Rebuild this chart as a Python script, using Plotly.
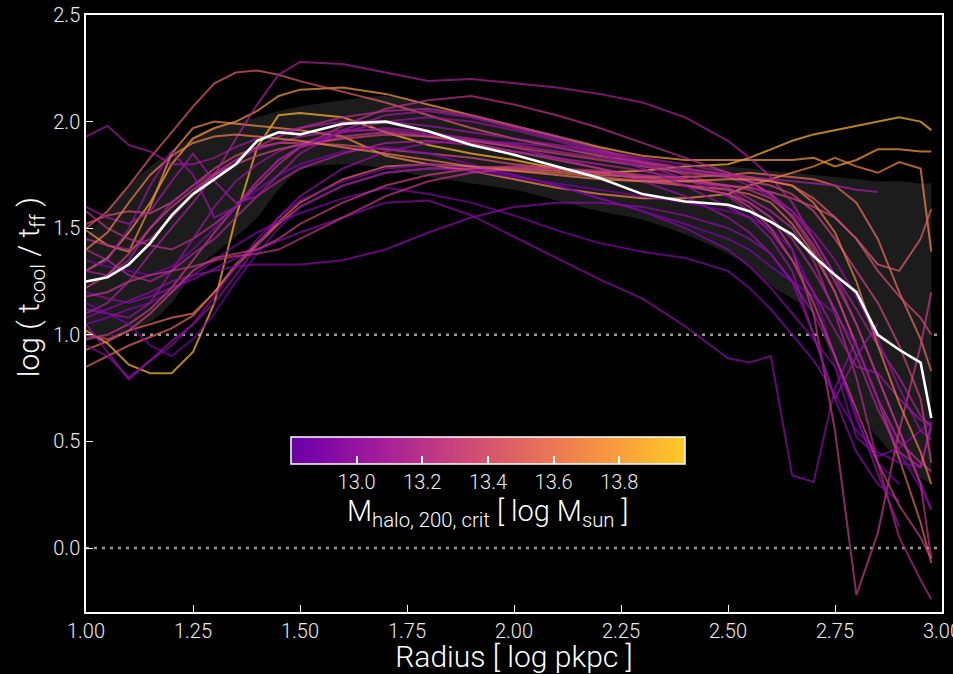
import numpy as np
import plotly.graph_objects as go
from plotly.colors import sample_colorscale

radius = [1.00, 1.05, 1.10, 1.15, 1.20, 1.25, 1.30, 1.35, 1.40, 1.45, 1.50, 1.60, 1.70, 1.80, 1.90,
          2.00, 2.10, 2.20, 2.30, 2.40, 2.50, 2.55, 2.60, 2.65, 2.70, 2.75, 2.80, 2.85, 2.90, 2.95, 2.975]

median = [1.25, 1.27, 1.33, 1.43, 1.56, 1.66, 1.73, 1.80, 1.91, 1.95, 1.94, 1.99, 2.00, 1.955, 1.89,
          1.845, 1.79, 1.735, 1.66, 1.625, 1.61, 1.58, 1.53, 1.47, 1.37, 1.28, 1.20, 1.00, 0.93, 0.87, 0.61]
band_lo = [0.97, 0.99, 1.02, 1.06, 1.15, 1.29, 1.38, 1.46, 1.55, 1.68, 1.77, 1.80, 1.78, 1.74, 1.71,
           1.68, 1.63, 1.58, 1.54, 1.47, 1.38, 1.32, 1.23, 1.17, 1.10, 0.84, 0.65, 0.52, 0.41, 0.33, 0.30]
band_hi = [1.46, 1.58, 1.70, 1.79, 1.86, 1.93, 1.97, 2.00, 2.02, 2.05, 2.07, 2.10, 2.12, 2.08, 2.03,
           1.98, 1.94, 1.89, 1.83, 1.80, 1.79, 1.78, 1.77, 1.76, 1.75, 1.74, 1.73, 1.72, 1.72, 1.71, 1.71]

halo_mass = [13.92, 13.78, 13.70, 13.55, 13.45, 13.35, 13.50, 13.05, 13.10, 12.95,
             12.90, 13.15, 13.20, 13.00, 13.25, 12.92, 13.08, 12.88, 12.85, 13.12,
             12.98, 13.30, 13.22, 13.05, 13.62, 12.95, 13.28, 13.00]

N = None
profiles = [
    [1.02, 0.96, 0.86, 0.82, 0.82, 0.92, 1.15, 1.55, 1.88, 2.03, 2.04, 2.02, 1.95, 1.89, 1.85, 1.82, 1.78, 1.76, 1.77, 1.79, 1.80, 1.83, 1.87, 1.91, 1.94, 1.96, 1.98, 2.00, 2.02, 2.00, 1.96],
    [1.30, 1.36, 1.48, 1.62, 1.80, 1.92, 1.97, 2.00, 2.05, 2.12, 2.15, 2.16, 2.13, 2.08, 2.03, 1.98, 1.93, 1.88, 1.84, 1.82, 1.82, 1.82, 1.82, 1.82, 1.83, 1.79, 1.82, 1.87, 1.87, 1.86, 1.86],
    [1.49, 1.42, 1.39, 1.60, 1.85, 1.97, 2.00, 1.99, 1.98, 1.97, 1.96, 1.93, 1.84, 1.80, 1.77, 1.73, 1.69, 1.66, 1.64, 1.64, 1.66, 1.70, 1.73, 1.76, 1.79, 1.83, 1.79, 1.76, 1.81, 1.78, 1.39],
    [0.93, 0.97, 1.02, 1.05, 1.08, 1.10, 1.20, 1.33, 1.43, 1.53, 1.62, 1.73, 1.79, 1.80, 1.79, 1.78, 1.77, 1.75, 1.74, 1.74, 1.75, 1.76, 1.75, 1.74, 1.73, 1.70, 1.62, 1.45, 1.20, 0.98, 0.83],
    [1.50, 1.58, 1.70, 1.83, 1.95, 2.07, 2.18, 2.23, 2.24, 2.22, 2.19, 2.14, 2.09, 2.03, 1.97, 1.92, 1.88, 1.84, 1.81, 1.78, 1.75, 1.74, 1.72, 1.70, 1.64, 1.55, 1.45, 1.33, 1.30, 1.45, 1.59],
    [1.52, 1.56, 1.58, 1.57, 1.62, 1.70, 1.78, 1.84, 1.88, 1.90, 1.90, 1.89, 1.87, 1.85, 1.83, 1.80, 1.78, 1.76, 1.74, 1.72, 1.70, 1.69, 1.67, 1.64, 1.60, 1.55, 1.45, 1.30, 1.18, 1.08, 1.00],
    [0.85, 0.90, 0.95, 0.99, 1.03, 1.09, 1.20, 1.32, 1.42, 1.52, 1.60, 1.70, 1.76, 1.78, 1.78, 1.77, 1.76, 1.74, 1.72, 1.70, 1.68, 1.66, 1.62, 1.52, 1.38, 1.20, 0.95, 0.70, 0.42, 0.12, -0.07],
    [1.93, 1.98, 1.89, 1.86, 1.80, 1.80, 1.83, 1.88, 1.92, 1.95, 1.97, 2.00, 2.00, 1.98, 1.95, 1.92, 1.89, 1.86, 1.83, 1.80, 1.76, 1.72, 1.66, 1.58, 1.45, 1.28, 1.05, 0.80, 0.55, 0.30, 0.18],
    [1.10, 1.15, 1.25, 1.38, 1.50, 1.62, 1.75, 1.92, 2.08, 2.22, 2.28, 2.27, 2.23, 2.19, 2.20, 2.18, 2.16, 2.13, 2.09, 2.02, 1.91, 1.83, 1.74, 1.62, 1.45, 1.28, 1.12, 0.95, 0.80, 0.62, 0.57],
    [1.20, 1.17, 1.15, 1.18, 1.22, 1.26, 1.31, 1.36, 1.40, 1.44, 1.48, 1.55, 1.62, 1.63, 1.56, 1.46, 1.36, 1.26, 1.17, 1.04, 0.89, 0.87, 0.90, 0.34, 0.31, 0.75, 0.98, N, N, N, N],
    [1.05, 1.08, 1.12, 1.15, 1.20, 1.28, 1.35, 1.42, 1.48, 1.53, 1.57, 1.64, 1.69, 1.66, 1.62, 1.56, 1.49, 1.43, 1.39, 1.36, 1.30, 1.22, 1.12, 1.00, 0.88, 0.72, 0.55, 0.45, 0.40, 0.38, 0.59],
    [1.45, 1.42, 1.40, 1.45, 1.55, 1.66, 1.75, 1.82, 1.88, 1.93, 1.97, 2.02, 2.05, 2.06, 2.03, 1.98, 1.93, 1.87, 1.81, 1.75, 1.69, 1.64, 1.58, 1.50, 1.35, 1.10, 0.80, 0.40, 0.05, -0.15, -0.24],
    [1.58, 1.50, 1.45, 1.42, 1.40, 1.45, 1.52, 1.60, 1.70, 1.80, 1.88, 1.98, 2.06, 2.10, 2.12, 2.08, 2.03, 1.97, 1.90, 1.83, 1.76, 1.72, 1.66, 1.55, 1.40, 1.20, 0.95, 0.70, 0.50, 0.40, 0.36],
    [1.12, 1.10, 1.08, 1.15, 1.30, 1.45, 1.60, 1.72, 1.80, 1.86, 1.90, 1.95, 1.97, 1.95, 1.92, 1.88, 1.83, 1.78, 1.72, 1.65, 1.55, 1.48, 1.38, 1.25, 1.10, 0.90, 0.62, 0.35, 0.10, N, N],
    [0.98, 1.00, 1.05, 1.12, 1.22, 1.35, 1.48, 1.60, 1.72, 1.82, 1.88, 1.93, 1.95, 1.93, 1.90, 1.86, 1.82, 1.78, 1.74, 1.70, 1.66, 1.62, 1.55, 1.40, 1.10, 0.55, -0.22, 0.07, 0.55, 0.95, 1.20],
    [0.95, 0.90, 0.80, 0.88, 0.95, 1.05, 1.18, 1.32, 1.45, 1.55, 1.63, 1.72, 1.78, 1.80, 1.78, 1.75, 1.70, 1.64, 1.58, 1.50, 1.40, 1.32, 1.22, 1.10, 0.98, 0.85, 0.52, 0.43, 0.47, 0.55, 0.59],
    [1.30, 1.28, 1.35, 1.50, 1.62, 1.70, 1.76, 1.82, 1.87, 1.90, 1.93, 1.96, 1.96, 1.94, 1.92, 1.89, 1.86, 1.83, 1.80, 1.77, 1.75, 1.74, 1.73, 1.72, 1.71, 1.70, 1.68, 1.67, N, N, N],
    [1.35, 1.32, 1.30, 1.28, 1.32, 1.40, 1.50, 1.60, 1.68, 1.75, 1.80, 1.86, 1.88, 1.85, 1.80, 1.75, 1.70, 1.64, 1.58, 1.52, 1.45, 1.40, 1.32, 1.25, 1.18, 1.10, 0.95, 0.70, 0.45, 0.28, 0.18],
    [1.15, 1.10, 1.05, 0.95, 0.90, 0.98, 1.10, 1.25, 1.38, 1.50, 1.60, 1.70, 1.76, 1.78, 1.77, 1.74, 1.71, 1.68, 1.65, 1.62, 1.58, 1.55, 1.50, 1.40, 1.20, 0.90, 0.60, 0.40, 0.30, N, N],
    [1.40, 1.35, 1.28, 1.25, 1.30, 1.38, 1.45, 1.55, 1.65, 1.72, 1.78, 1.85, 1.90, 1.91, 1.89, 1.86, 1.83, 1.80, 1.77, 1.73, 1.68, 1.62, 1.55, 1.45, 1.30, 1.12, 0.90, 0.65, 0.45, 0.38, 0.57],
    [1.05, 0.92, 0.79, 0.88, 0.97, 1.05, 1.15, 1.28, 1.42, 1.55, 1.65, 1.78, 1.86, 1.90, 1.91, 1.90, 1.88, 1.85, 1.82, 1.78, 1.74, 1.70, 1.65, 1.58, 1.48, 1.35, 1.18, 0.98, 0.75, 0.55, 0.51],
    [1.22, 1.28, 1.38, 1.50, 1.60, 1.68, 1.75, 1.80, 1.84, 1.87, 1.89, 1.92, 1.94, 1.93, 1.91, 1.88, 1.85, 1.82, 1.79, 1.76, 1.74, 1.72, 1.70, 1.66, 1.58, 1.45, 1.30, 1.15, 0.95, 0.70, 0.40],
    [1.18, 1.20, 1.25, 1.28, 1.30, 1.32, 1.35, 1.37, 1.38, 1.40, 1.45, 1.55, 1.65, 1.72, 1.76, 1.78, 1.78, 1.77, 1.75, 1.73, 1.70, 1.68, 1.64, 1.56, 1.42, 1.25, 1.05, 0.80, 0.55, 0.30, -0.05],
    [1.60, 1.55, 1.52, 1.58, 1.72, 1.85, 1.72, 1.62, 1.65, 1.75, 1.85, 1.96, 2.03, 2.05, 2.02, 1.97, 1.92, 1.86, 1.80, 1.73, 1.65, 1.58, 1.48, 1.35, 1.20, 1.02, 0.85, 0.82, 0.70, 0.60, 0.58],
    [1.40, 1.48, 1.62, 1.75, 1.84, 1.90, 1.93, 1.94, 1.93, 1.92, 1.91, 1.88, 1.85, 1.82, 1.79, 1.77, 1.75, 1.73, 1.72, 1.72, 1.73, 1.73, 1.72, 1.70, 1.62, 1.48, 1.25, 0.95, 0.68, 0.45, 0.30],
    [1.08, 1.12, 1.16, 1.20, 1.25, 1.28, 1.30, 1.32, 1.33, 1.33, 1.33, 1.35, 1.40, 1.48, 1.55, 1.60, 1.62, 1.62, 1.60, 1.56, 1.50, 1.45, 1.38, 1.25, 1.00, 0.70, 0.45, 0.30, 0.22, N, N],
    [1.00, 0.98, 1.02, 1.10, 1.20, 1.30, 1.36, 1.38, 1.40, 1.45, 1.52, 1.62, 1.70, 1.75, 1.78, 1.79, 1.78, 1.76, 1.73, 1.70, 1.66, 1.60, 1.50, 1.35, 1.15, 0.90, 0.65, 0.40, 0.20, 0.05, -0.05],
    [1.30, 1.35, 1.50, 1.70, 1.86, 1.75, 1.55, 1.60, 1.72, 1.82, 1.88, 1.95, 2.00, 2.02, 2.00, 1.96, 1.91, 1.85, 1.78, 1.70, 1.60, 1.55, 1.45, 1.30, 1.00, 0.70, 0.90, 1.05, N, N, N],
]

cbar_ticks = [13.0, 13.2, 13.4, 13.6, 13.8]
mass_min, mass_max = 12.8, 14.0
x_ticks = [1.0, 1.25, 1.5, 1.75, 2.0, 2.25, 2.5, 2.75, 3.0]
y_ticks = [0.0, 0.5, 1.0, 1.5, 2.0, 2.5]
ref_levels = [1.0, 0.0]

# truncated plasma colormap
cmap_pos = list(np.linspace(0.0, 1.0, 15))
cmap_cols = sample_colorscale("Plasma", list(np.linspace(0.2, 0.889, 15)))
colorscale = [[p, c] for p, c in zip(cmap_pos, cmap_cols)]

FONT = "Roboto"
TICKFONT = dict(family=FONT, size=20, color="#ececec", weight=300)
fig = go.Figure()

# percentile band
fig.add_trace(go.Scatter(x=radius, y=band_lo, mode="lines", line=dict(width=0, shape="spline"),
                         hoverinfo="skip", showlegend=False))
fig.add_trace(go.Scatter(x=radius, y=band_hi, mode="lines", line=dict(width=0, shape="spline"),
                         fill="tonexty", fillcolor="#1c1c1c", hoverinfo="skip", showlegend=False))

for m, prof in zip(halo_mass, profiles):
    t = (m - mass_min) / (mass_max - mass_min)
    col = sample_colorscale(colorscale, [t])[0]
    fig.add_trace(go.Scatter(x=radius, y=prof, mode="lines", line=dict(color=col, width=2),
                             opacity=0.72, showlegend=False, connectgaps=False))

fig.add_trace(go.Scatter(x=radius, y=median, mode="lines", line=dict(color="white", width=2.6),
                         showlegend=False))

# colorbar carrier
fig.add_trace(go.Scatter(
    x=[None] * len(halo_mass), y=[None] * len(halo_mass), mode="markers", showlegend=False,
    marker=dict(color=halo_mass, colorscale=colorscale, cmin=mass_min, cmax=mass_max, size=0,
                showscale=True,
                colorbar=dict(orientation="h", x=0.4696, xanchor="center", y=0.2931, yanchor="top",
                              len=0.46, lenmode="fraction", thickness=27,
                              outlinecolor="white", outlinewidth=1.5,
                              tickvals=cbar_ticks, ticktext=[f"{v:.1f}" for v in cbar_ticks],
                              ticks="inside", ticklen=8, tickcolor="white", tickwidth=1.5,
                              tickfont=dict(family=FONT, size=20, color="#ececec", weight=300),
                              bgcolor="rgba(0,0,0,0)", borderwidth=0, ypad=0, xpad=0))))

for yv in ref_levels:
    fig.add_shape(type="line", xref="paper", x0=0, x1=1, yref="y", y0=yv, y1=yv,
                  line=dict(color="#9a9a9a", width=2.5, dash="3px,5px"), layer="below")

axis_common = dict(showgrid=False, zeroline=False, showline=True, linecolor="white", linewidth=1.5,
                   mirror=True, ticks="inside", ticklen=7, tickwidth=1.2, tickcolor="white",
                   tickfont=TICKFONT, automargin=False)

fig.update_layout(
    width=953, height=674,
    margin=dict(l=86, r=11, t=15, b=62, autoexpand=False),
    paper_bgcolor="black", plot_bgcolor="black",
    font=dict(family=FONT, color="white", weight=300),
    xaxis=dict(range=[1.0, 3.0], tickvals=x_ticks, tickformat=".2f", ticklabeloverflow="allow",
               title=dict(text="Radius [ log pkpc ]", standoff=5,
                          font=dict(family=FONT, size=30, color="white", weight=300)),
               **axis_common),
    yaxis=dict(range=[-0.3, 2.5], tickvals=y_ticks, tickformat=".1f", **axis_common),
    annotations=[
        dict(text="log ( t<sub>cool</sub> / t<sub>ff</sub> )", textangle=-90,
             xref="paper", yref="paper", x=-0.0654, y=0.544,
             xanchor="center", yanchor="middle", showarrow=False,
             font=dict(family=FONT, size=30, color="white", weight=300)),
        dict(text="M<sub>halo, 200, crit</sub> [ log M<sub>sun</sub> ]",
             xref="paper", yref="paper", x=0.4696, y=0.1658,
             xanchor="center", yanchor="middle", showarrow=False,
             font=dict(family=FONT, size=29, color="white", weight=300)),
    ],
)

fig.write_html("out.html")
